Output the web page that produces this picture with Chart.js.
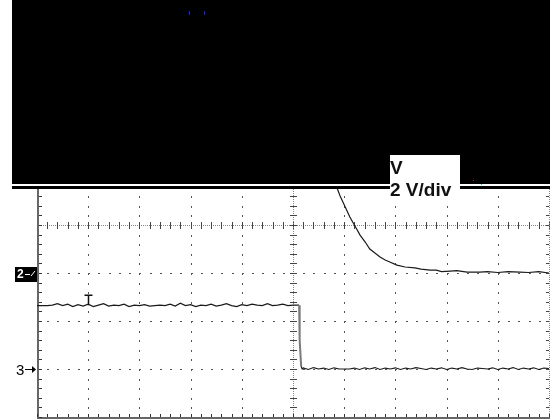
<!DOCTYPE html>
<html>
<head>
<meta charset="utf-8">
<script src="https://cdn.jsdelivr.net/npm/chart.js@4/dist/chart.umd.min.js"></script>
<style>
  html, body { margin: 0; padding: 0; background: #fff; }
  #wrap { width: 550px; height: 420px; position: relative; }
</style>
</head>
<body>
<div id="wrap"><canvas id="scope" width="550" height="420"></canvas></div>
<script>
// Screen: 10 horizontal x 8 vertical divisions, 5 minor steps per division
const X_DIVS = 10;
const Y_DIVS = 8;
const MINOR = 5;
const VOLTS_PER_DIV = 2;
const scaleLabel = ["V", "2 V/div"];

// Channel ground references (in divisions from screen centre)
const ch2Ref = -1;
const ch3Ref = -3;

// Channel 3: time (div) and voltage (V)
const ch3Time = [
  0.0, 0.1, 0.2, 0.3, 0.4, 0.5, 0.6, 0.7, 0.8, 0.9,
  1.0, 1.1, 1.2, 1.3, 1.4, 1.5, 1.6, 1.7, 1.8, 1.9,
  2.0, 2.1, 2.2, 2.3, 2.4, 2.5, 2.6, 2.7, 2.8, 2.9,
  3.0, 3.1, 3.2, 3.3, 3.4, 3.5, 3.6, 3.7, 3.8, 3.9,
  4.0, 4.1, 4.2, 4.3, 4.4, 4.5, 4.6, 4.7, 4.8, 4.9,
  5.0, 5.12, 5.13, 5.16, 5.18,
  5.2, 5.3, 5.4, 5.5, 5.6, 5.7, 5.8, 5.9,
  6.0, 6.1, 6.2, 6.3, 6.4, 6.5, 6.6, 6.7, 6.8, 6.9,
  7.0, 7.1, 7.2, 7.3, 7.4, 7.5, 7.6, 7.7, 7.8, 7.9,
  8.0, 8.1, 8.2, 8.3, 8.4, 8.5, 8.6, 8.7, 8.8, 8.9,
  9.0, 9.1, 9.2, 9.3, 9.4, 9.5, 9.6, 9.7, 9.8, 9.9, 10.0
];
const ch3Volts = [
  2.64, 2.64, 2.64, 2.66, 2.72, 2.64, 2.70, 2.60, 2.68, 2.62,
  2.70, 2.60, 2.66, 2.72, 2.62, 2.66, 2.64, 2.70, 2.60, 2.66,
  2.64, 2.68, 2.62, 2.64, 2.66, 2.64, 2.70, 2.62, 2.74, 2.64,
  2.68, 2.60, 2.66, 2.64, 2.70, 2.62, 2.66, 2.72, 2.64, 2.60,
  2.68, 2.64, 2.70, 2.66, 2.64, 2.72, 2.64, 2.66, 2.70, 2.64,
  2.66, 2.66, 1.20, 0.10, 0.00,
  0.04, -0.02, 0.06, 0.00, 0.04, -0.02, 0.05, 0.00,
  0.00, 0.00, 0.04, -0.02, 0.05, 0.00, 0.06, -0.02, 0.04, 0.00,
  0.05, -0.02, 0.04, 0.00, 0.06, 0.02, -0.02, 0.04, 0.00, 0.05,
  -0.02, 0.04, 0.00, 0.06, 0.00, -0.02, 0.04, 0.02, 0.00, 0.05,
  -0.02, 0.04, 0.00, 0.06, -0.02, 0.04, 0.00, 0.05, -0.02, 0.04, 0.02
];

// Channel 2: time (div) and voltage (V)
const ch2Time = [
  5.78, 5.86, 5.92, 6.02, 6.11, 6.21, 6.31, 6.41, 6.50, 6.60,
  6.70, 6.80, 6.89, 7.03, 7.19, 7.38, 7.50, 7.68, 7.80, 7.90,
  8.07, 8.20, 8.40, 8.65, 8.80, 9.00, 9.20, 9.43, 9.60, 9.80, 10.0
];
const ch2Volts = [
  3.96, 3.54, 3.21, 2.75, 2.33, 1.96, 1.58, 1.29, 1.00, 0.83,
  0.67, 0.54, 0.46, 0.33, 0.25, 0.21, 0.16, 0.12, 0.12, 0.06,
  0.08, 0.10, 0.04, 0.04, 0.06, 0.02, 0.06, 0.04, 0.02, 0.06, 0.00
];

// Trigger position (div)
const triggerTime = 1.0;

function toPoints(times, volts, ref) {
  return times.map((t, i) => ({ x: t, y: ref + volts[i] / VOLTS_PER_DIV }));
}

const gridPlugin = {
  id: 'scopeGrid',
  beforeDatasetsDraw(chart) {
    const { ctx, scales: { x, y } } = chart;
    const px = v => Math.round(x.getPixelForValue(v));
    const py = v => Math.round(y.getPixelForValue(v));
    const xMin = 0, xMax = X_DIVS, yMin = -Y_DIVS / 2, yMax = Y_DIVS / 2;
    const step = 1 / MINOR;
    ctx.save();

    // dotted vertical grid lines
    ctx.fillStyle = '#555';
    for (let k = 1; k < X_DIVS; k++) {
      if (k === X_DIVS / 2) continue;
      const gx = px(k);
      for (let m = yMin * MINOR; m <= yMax * MINOR; m++) {
        ctx.fillRect(gx, py(m * step), 1, 2);
      }
    }
    // dotted horizontal grid lines
    for (let k = yMin + 1; k < yMax; k++) {
      if (k === 0) continue;
      const gy = py(k);
      for (let m = 0; m <= xMax * MINOR; m++) {
        ctx.fillRect(px(m * step), gy, 2, 1);
      }
    }

    // centre horizontal axis: fine dotted line with minor ticks
    const cy = py(0);
    ctx.fillStyle = '#888';
    for (let xx = px(0); xx <= px(xMax); xx += 2) ctx.fillRect(xx, cy, 1, 1);
    ctx.fillStyle = '#444';
    for (let m = 0; m <= xMax * MINOR; m++) {
      ctx.fillRect(px(m * step), cy - 3, 1, 7);
    }
    // centre vertical axis: fine dotted line with minor ticks
    const cx = px(X_DIVS / 2);
    ctx.fillStyle = '#888';
    for (let yy = py(yMax); yy <= py(yMin); yy += 2) ctx.fillRect(cx, yy, 1, 1);
    ctx.fillStyle = '#444';
    for (let m = yMin * MINOR; m <= yMax * MINOR; m++) {
      ctx.fillRect(cx - 3, py(m * step), 7, 1);
    }

    // right edge: dotted with ticks
    const rx = px(xMax);
    ctx.fillStyle = '#888';
    for (let yy = py(yMax); yy <= py(yMin); yy += 2) ctx.fillRect(rx, yy, 1, 1);
    ctx.fillStyle = '#444';
    for (let m = yMin * MINOR; m <= yMax * MINOR; m++) {
      ctx.fillRect(rx - 3, py(m * step), 3, 1);
    }

    // left and bottom borders with minor ticks
    const lx = px(xMin), by = py(yMin);
    ctx.fillStyle = '#666';
    ctx.fillRect(lx, py(yMax), 2, by - py(yMax) + 1);
    ctx.fillRect(lx, by, px(xMax) - lx + 1, 2);
    ctx.fillStyle = '#333';
    for (let m = yMin * MINOR; m <= yMax * MINOR; m++) {
      ctx.fillRect(lx + 2, py(m * step), 3, 1);
    }
    for (let m = 0; m <= xMax * MINOR; m++) {
      ctx.fillRect(px(m * step), by - 3, 1, 3);
    }
    ctx.restore();
  },
  afterDatasetsDraw(chart) {
    const { ctx, scales: { x, y } } = chart;
    ctx.save();
    // trigger marker
    const tx = Math.round(x.getPixelForValue(triggerTime)) + 0.5;
    const ty = y.getPixelForValue(ch3Ref + ch3Volts[10] / VOLTS_PER_DIV);
    ctx.strokeStyle = '#111';
    ctx.lineWidth = 1.5;
    ctx.beginPath();
    ctx.moveTo(tx - 4, ty - 9); ctx.lineTo(tx + 4, ty - 9);
    ctx.moveTo(tx, ty - 9); ctx.lineTo(tx, ty + 1);
    ctx.stroke();

    // channel 2 ground marker
    const g2 = Math.round(y.getPixelForValue(ch2Ref));
    ctx.fillStyle = '#000';
    ctx.fillRect(15, g2 - 6, 22, 15);
    ctx.fillStyle = '#fff';
    ctx.font = 'bold 12px "Liberation Sans", Arial, sans-serif';
    ctx.textBaseline = 'alphabetic';
    ctx.fillText('2', 17, g2 + 5);
    ctx.fillRect(25, g2 + 1, 5, 1);
    ctx.beginPath();
    ctx.strokeStyle = '#fff';
    ctx.lineWidth = 1;
    ctx.moveTo(31, g2 + 3); ctx.lineTo(35, g2 - 2);
    ctx.stroke();

    // channel 3 ground marker
    const g3 = Math.round(y.getPixelForValue(ch3Ref));
    ctx.fillStyle = '#000';
    ctx.font = '15px "Liberation Sans", Arial, sans-serif';
    ctx.fillText('3', 16, g3 + 6);
    ctx.fillRect(25, g3, 8, 1);
    ctx.beginPath();
    ctx.moveTo(36, g3 + 0.5); ctx.lineTo(32, g3 - 3); ctx.lineTo(32, g3 + 4); ctx.closePath();
    ctx.fill();
    ctx.restore();
  },
  afterDraw(chart) {
    const { ctx } = chart;
    ctx.save();
    // masked header band
    ctx.fillStyle = '#000';
    ctx.fillRect(12, 0, 538, 184);
    ctx.fillStyle = '#fff';
    ctx.fillRect(12, 184, 538, 2);
    ctx.fillStyle = '#000';
    ctx.fillRect(12, 186, 538, 3);
    // small status marks
    ctx.fillStyle = '#1a1aff';
    ctx.fillRect(189, 11, 1, 4);
    ctx.fillRect(204, 11, 1, 4);
    ctx.fillStyle = '#c03030';
    ctx.fillRect(473, 180, 1, 1);
    ctx.fillStyle = '#30c0c0';
    ctx.fillRect(481, 184, 1, 1);
    // scale readout
    ctx.fillStyle = '#fff';
    ctx.fillRect(390, 155, 70, 44);
    ctx.fillStyle = '#111';
    ctx.font = 'bold 19px "Liberation Sans", Arial, sans-serif';
    ctx.textBaseline = 'alphabetic';
    ctx.fillText(scaleLabel[0], 390, 174);
    ctx.fillText(scaleLabel[1], 390, 196);
    ctx.restore();
  }
};

new Chart(document.getElementById('scope'), {
  type: 'scatter',
  data: {
    datasets: [
      {
        label: 'CH3',
        data: toPoints(ch3Time, ch3Volts, ch3Ref),
        showLine: true,
        borderColor: '#1a1a1a',
        borderWidth: 1.2,
        pointRadius: 0,
        tension: 0,
        segment: {
          borderColor: c => Math.abs(c.p1.parsed.y - c.p0.parsed.y) > 0.3 ? '#7a7a7a' : undefined,
          borderWidth: c => Math.abs(c.p1.parsed.y - c.p0.parsed.y) > 0.3 ? 2 : undefined
        }
      },
      {
        label: 'CH2',
        data: toPoints(ch2Time, ch2Volts, ch2Ref),
        showLine: true,
        borderColor: '#1a1a1a',
        borderWidth: 1.2,
        pointRadius: 0,
        tension: 0
      }
    ]
  },
  options: {
    responsive: false,
    animation: false,
    layout: { padding: { left: 37, right: 1, top: 33, bottom: 3 } },
    plugins: { legend: { display: false }, tooltip: { enabled: false } },
    scales: {
      x: { type: 'linear', min: 0, max: X_DIVS, display: false },
      y: { type: 'linear', min: -Y_DIVS / 2, max: Y_DIVS / 2, display: false }
    }
  },
  plugins: [gridPlugin]
});
</script>
</body>
</html>
